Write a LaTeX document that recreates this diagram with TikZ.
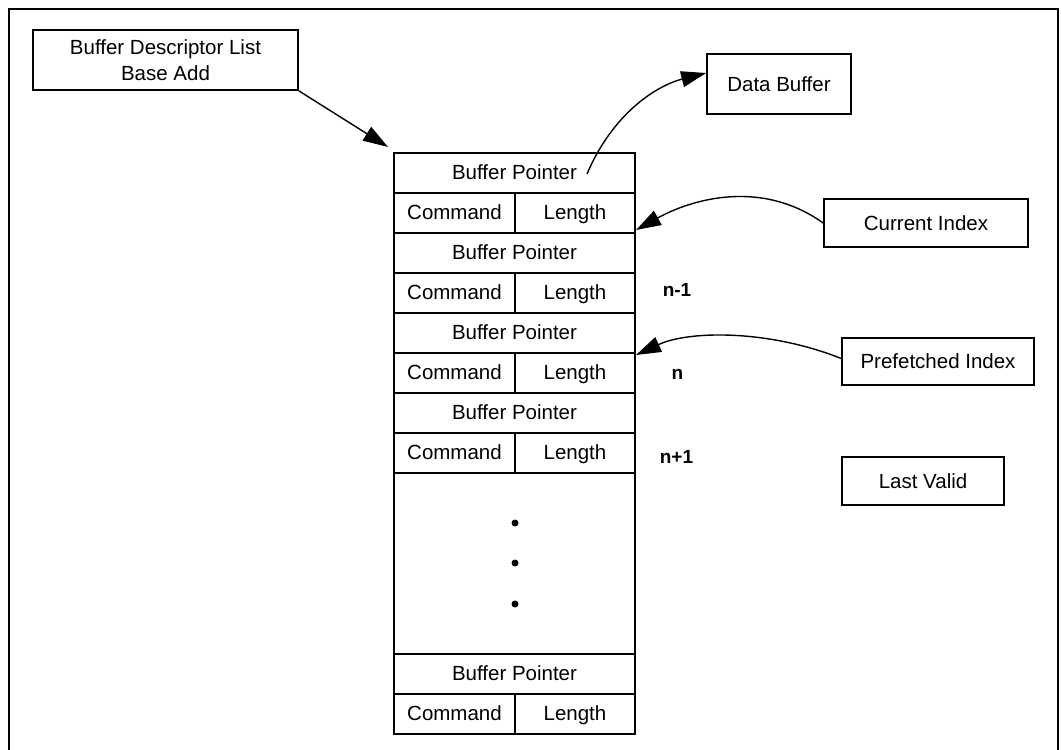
\documentclass[tikz,border=0pt]{standalone}
\usepackage{fontspec}
\setmainfont{Liberation Sans}
\usetikzlibrary{arrows.meta}
\begin{document}
\begin{tikzpicture}[x=1pt,y=-1pt,
  every node/.style={font=\fontsize{20.5}{26.5}\selectfont},
  cell/.style={draw, line width=1.6pt, minimum height=40pt, inner sep=0pt, outer sep=0pt, anchor=north west, text height=16pt, text depth=4pt},
  wide/.style={cell, minimum width=241pt},
  half/.style={cell, minimum width=121pt},
  lbox/.style={draw, line width=1.6pt, inner sep=0pt, align=center},
  lbl/.style={font=\fontsize{19}{22}\selectfont\bfseries},
  dot/.style={circle, fill, inner sep=0pt, minimum size=7pt},
  arr/.style={line width=1.4pt, -{Triangle[length=25pt,width=16pt]}}]
\useasboundingbox (0,0) rectangle (1061,750);
\draw[line width=2.5pt] (9,752) -- (9,9) -- (1058,9) -- (1058,752);

% table
\node[wide] (bp1) at (394,153) {Buffer Pointer};
\node[half] (cmd1) at (394,193) {Command};
\node[half, minimum width=120pt] (len1) at (515,193) {Length};
\node[wide] (bp2) at (394,233) {Buffer Pointer};
\node[half] (cmd2) at (394,273) {Command};
\node[half, minimum width=120pt] (len2) at (515,273) {Length};
\node[wide] (bp3) at (394,313) {Buffer Pointer};
\node[half] (cmd3) at (394,353) {Command};
\node[half, minimum width=120pt] (len3) at (515,353) {Length};
\node[wide] (bp4) at (394,393) {Buffer Pointer};
\node[half] (cmd4) at (394,433) {Command};
\node[half, minimum width=120pt] (len4) at (515,433) {Length};
\node[wide, minimum height=181pt, text height=, text depth=] (gap) at (394,473) {};
\node[wide] (bp5) at (394,654) {Buffer Pointer};
\node[half] (cmd5) at (394,694) {Command};
\node[half, minimum width=120pt] (len5) at (515,694) {Length};

\node[dot] (d1) at (515,523) {};
\node[dot] (d2) at (515,563) {};
\node[dot] (d3) at (515,604) {};

% labels
\node[lbl] (n1) at (677,290) {n-1};
\node[lbl] (n2) at (677.5,374) {n};
\node[lbl] (n3) at (676.5,457) {n+1};

% boxes
\node[lbox, minimum width=265pt, minimum height=60pt] (bdl) at (165.5,60) {Buffer Descriptor List\\Base Add};
\node[lbox, minimum width=144pt, minimum height=60pt] (db) at (779,84) {Data Buffer};
\node[lbox, minimum width=204pt, minimum height=48pt] (ci) at (926,223) {Current Index};
\node[lbox, minimum width=192pt, minimum height=47pt] (pi) at (938,361.5) {Prefetched Index};
\node[lbox, minimum width=162pt, minimum height=48pt] (lv) at (923,481) {Last Valid};

% connectors
\coordinate (bdltip) at (388,147);
\coordinate (dbstart) at (587,174);
\coordinate (citip) at (636,230);
\coordinate (pitip) at (636,355);
\draw[arr] (bdl.south east) -- (bdltip);
\draw[arr] (dbstart) .. controls (612,115) and (655,86) .. ([yshift=11pt]db.west);
\draw[arr] (ci.west) .. controls (760,178) and (690,200) .. (citip);
\draw[arr] ([yshift=3pt]pi.west) .. controls (770,330) and (690,330) .. (pitip);
\end{tikzpicture}
\end{document}
